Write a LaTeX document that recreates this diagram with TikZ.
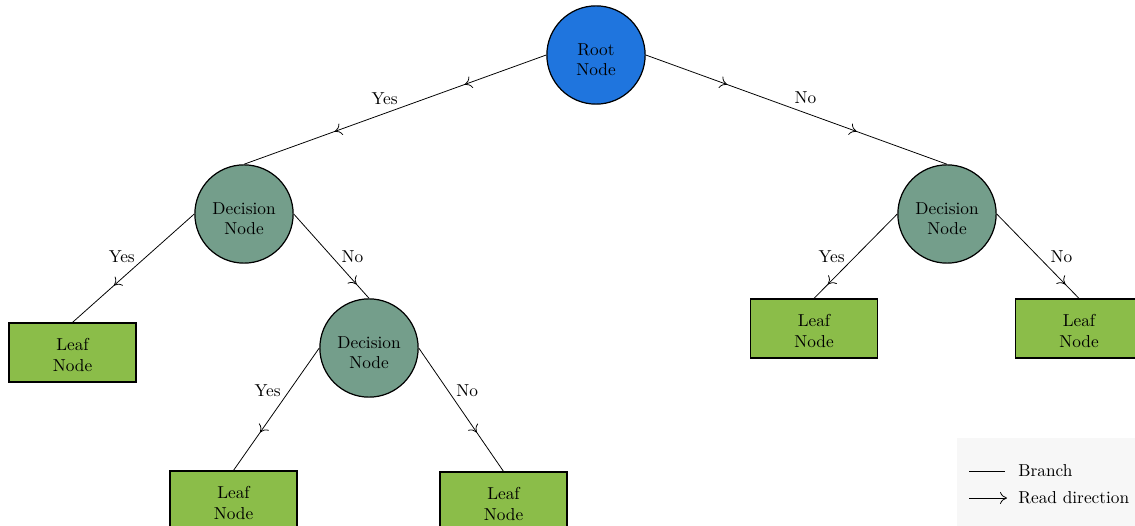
\documentclass[tikz,border=0pt]{standalone}
\usetikzlibrary{decorations.markings,arrows.meta}
\definecolor{rootblue}{RGB}{31,117,222}
\definecolor{decgreen}{RGB}{116,158,139}
\definecolor{leafgreen}{RGB}{139,189,73}
\definecolor{legendbg}{RGB}{247,247,247}
% two centred lines, lowered by #1 inside a box of no height
\newcommand{\twolines}[3]{\raisebox{#1}[0pt][0pt]{\begin{tabular}{@{}c@{}}#2\\#3\end{tabular}}}
\begin{document}
\begin{tikzpicture}[x=0.578pt,y=-0.578pt,
  >={To[length=4pt,width=7pt]},
  rootnode/.style={circle,draw,line width=0.7pt,fill=rootblue,minimum size=56.8pt,inner sep=0pt},
  decnode/.style={circle,draw,line width=0.7pt,fill=decgreen,minimum size=56.8pt,inner sep=0pt},
  leafnode/.style={rectangle,draw,line width=0.7pt,fill=leafgreen,minimum width=73.4pt,minimum height=34.1pt,inner sep=0pt},
  branch/.style={line width=0.45pt},
  arrowat/.style={postaction={decorate},decoration={markings,mark=at position #1 with {\arrow{>}}}},
  lbl/.style={inner sep=0pt}]
\useasboundingbox (0,0) rectangle (1135,526);

% tree nodes
\node[rootnode] (root) at (596,55) {\twolines{-6.2pt}{Root}{Node}};
\node[decnode] (dl) at (244,214) {\twolines{-6.2pt}{Decision}{Node}};
\node[decnode] (dr) at (947,214) {\twolines{-6.2pt}{Decision}{Node}};
\node[decnode] (dll) at (369,348) {\twolines{-6.2pt}{Decision}{Node}};
\node[leafnode] (l1) at (72.5,352.5) {\twolines{-4.8pt}{Leaf}{Node}};
\node[leafnode] (l2) at (233.5,500.5) {\twolines{-4.8pt}{Leaf}{Node}};
\node[leafnode] (l3) at (503.5,501.5) {\twolines{-4.8pt}{Leaf}{Node}};
\node[leafnode] (l4) at (814,328.5) {\twolines{-4.8pt}{Leaf}{Node}};
\node[leafnode] (l5) at (1079,328.5) {\twolines{-4.8pt}{Leaf}{Node}};

% branches with read-direction marks
\draw[branch,postaction={decorate},decoration={markings,
    mark=at position 0.27 with {\arrow{>}},mark=at position 0.70 with {\arrow{>}}}]
  (root.west) -- node[lbl,pos=0.535,shift={(0,-15)}] {Yes} (dl.north);
\draw[branch,postaction={decorate},decoration={markings,
    mark=at position 0.27 with {\arrow{>}},mark=at position 0.70 with {\arrow{>}}}]
  (root.east) -- node[lbl,pos=0.53,shift={(0,-15)}] {No} (dr.north);
\draw[branch,arrowat=0.66] (dl.west) -- node[lbl,pos=0.394,shift={(-24.5,0)}] {Yes} (l1.north);
\draw[branch,arrowat=0.835] (dl.east) -- node[lbl,pos=0.506,shift={(20.6,0)}] {No} (dll.north);
\draw[branch,arrowat=0.69] (dll.west) -- node[lbl,pos=0.35,shift={(-21.6,0)}] {Yes} (l2.north);
\draw[branch,arrowat=0.685] (dll.east) -- node[lbl,pos=0.347,shift={(19,0)}] {No} (l3.north);
\draw[branch,arrowat=0.835] (dr.west) -- node[lbl,pos=0.506,shift={(-23.5,0)}] {Yes} (l4.north);
\draw[branch,arrowat=0.835] (dr.east) -- node[lbl,pos=0.506,shift={(23,0)}] {No} (l5.north);

% legend
\fill[legendbg] (957,438) rectangle (1145,535);
\coordinate (b1) at (969,471);
\coordinate (b2) at (1005,471);
\coordinate (r1) at (969,498);
\coordinate (r2) at (1007,498);
\draw[branch] (b1) -- (b2);
\draw[branch,->] (r1) -- (r2);
\node[lbl,anchor=west] (lb) at (1018,471) {Branch};
\node[lbl,anchor=west] (lr) at (1018,498) {Read direction};
\end{tikzpicture}
\end{document}
